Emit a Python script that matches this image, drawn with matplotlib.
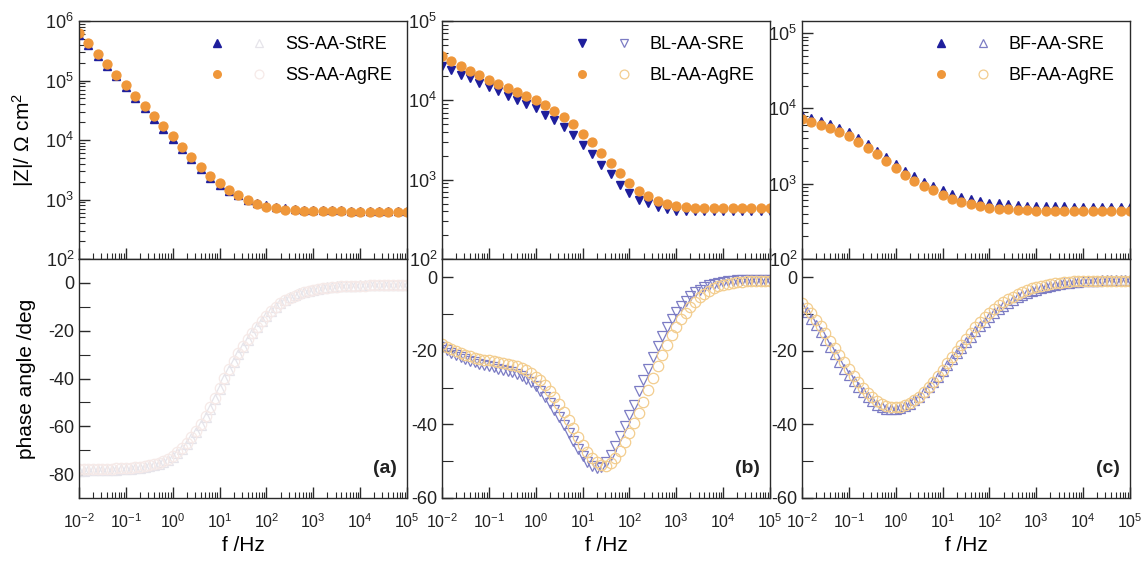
import numpy as np
import matplotlib
matplotlib.use("Agg")
import matplotlib.pyplot as plt
from matplotlib.ticker import LogLocator, FixedLocator, NullFormatter, LogFormatterSciNotation
from matplotlib.legend_handler import HandlerTuple

plt.rcParams.update({
    "font.family": ["Liberation Sans", "DejaVu Sans"],
    "mathtext.fontset": "custom",
    "mathtext.rm": "Liberation Sans",
    "mathtext.it": "Liberation Sans:italic",
    "mathtext.bf": "Liberation Sans:bold",
    "mathtext.default": "regular",
    "axes.unicode_minus": False,
})

# sweep grids: modulus every 0.2 decade, phase every 0.1 decade
f_mod = np.logspace(-2, 5, 36)
f_phase = np.logspace(-2, 5, 71)

# |Z| / Ohm cm2
ss_z_stre = [575e3, 398e3, 263e3, 174e3, 117e3, 77.6e3, 51.3e3, 33.9e3, 22.9e3, 15.5e3,
             10.5e3, 7080, 4790, 3310, 2340, 1780, 1410, 1170, 1000, 871,
             794, 741, 708, 692, 676, 676, 661, 661, 661, 646,
             646, 646, 646, 646, 646, 646]
ss_z_agre = [631e3, 427e3, 282e3, 186e3, 126e3, 83.2e3, 55.0e3, 37.2e3, 25.1e3, 17.0e3,
             11.5e3, 7590, 5130, 3550, 2510, 1860, 1450, 1170, 977, 851,
             759, 708, 676, 661, 646, 646, 631, 631, 631, 617,
             617, 617, 617, 617, 617, 617]
bl_z_sre = [26.9e3, 24.0e3, 20.9e3, 19.1e3, 16.6e3, 14.8e3, 13.2e3, 11.5e3, 10.2e3, 9120,
            7940, 6610, 5620, 4570, 3630, 2750, 2090, 1510, 1170, 851,
            676, 562, 501, 457, 427, 407, 398, 398, 398, 398,
            398, 398, 398, 398, 398, 398]
bl_z_agre = [36.3e3, 30.9e3, 26.9e3, 23.4e3, 20.9e3, 17.8e3, 16.2e3, 14.1e3, 12.9e3, 11.2e3,
             10.0e3, 8710, 7410, 6170, 5010, 3800, 2950, 2190, 1620, 1200,
             912, 724, 617, 537, 490, 468, 447, 437, 437, 437,
             437, 437, 437, 437, 437, 437]
bf_z_sre = [8130, 7410, 6760, 6170, 5500, 4790, 4070, 3390, 2750, 2240,
            1820, 1480, 1260, 1070, 933, 832, 741, 676, 631, 589,
            562, 550, 537, 525, 513, 513, 501, 501, 501, 490,
            490, 490, 490, 490, 490, 490]
bf_z_agre = [7240, 6610, 6030, 5500, 4900, 4270, 3630, 3020, 2450, 2000,
             1620, 1320, 1100, 933, 813, 708, 631, 575, 537, 501,
             479, 468, 457, 447, 447, 437, 437, 437, 437, 437,
             437, 437, 437, 437, 437, 437]

# phase angle / deg
ss_ph_stre = [-78.5, -78.5, -78.4, -78.4, -78.3, -78.3, -78.2, -78.2, -78.1, -78.0,
              -77.9, -77.8, -77.6, -77.4, -77.1, -76.8, -76.3, -75.7, -75.0, -74.0,
              -72.8, -71.3, -69.5, -67.4, -65.0, -62.3, -59.4, -56.2, -52.6, -48.4,
              -44.2, -40.2, -36.6, -33.1, -29.8, -26.7, -23.8, -21.0, -18.4, -16.0,
              -13.8, -11.8, -10.0, -8.5, -7.2, -6.1, -5.2, -4.4, -3.8, -3.2,
              -2.8, -2.4, -2.1, -1.9, -1.7, -1.5, -1.4, -1.3, -1.2, -1.1,
              -1.0, -1.0, -0.9, -0.9, -0.8, -0.8, -0.8, -0.7, -0.7, -0.7,
              -0.7]
ss_ph_agre = [-78.0, -78.0, -77.9, -77.9, -77.8, -77.8, -77.7, -77.7, -77.6, -77.5,
              -77.4, -77.3, -77.1, -76.9, -76.6, -76.3, -75.8, -75.2, -74.5, -73.5,
              -72.3, -70.8, -69.0, -66.9, -64.5, -61.8, -58.9, -55.7, -52.1, -48.0,
              -43.8, -39.8, -36.2, -32.8, -29.5, -26.5, -23.6, -20.9, -18.3, -16.0,
              -13.8, -11.8, -10.1, -8.6, -7.3, -6.2, -5.3, -4.5, -3.9, -3.3,
              -2.9, -2.5, -2.2, -2.0, -1.8, -1.6, -1.5, -1.4, -1.3, -1.2,
              -1.1, -1.1, -1.0, -1.0, -0.9, -0.9, -0.9, -0.8, -0.8, -0.8,
              -0.8]
bl_ph_sre = [-19.0, -19.8, -20.5, -21.1, -21.7, -22.2, -22.7, -23.1, -23.5, -23.9,
             -24.2, -24.5, -24.8, -25.1, -25.4, -25.8, -26.3, -26.9, -27.6, -28.5,
             -29.6, -30.9, -32.4, -34.1, -36.0, -38.0, -40.1, -42.3, -44.5, -46.6,
             -48.5, -50.1, -51.3, -51.9, -51.6, -50.3, -48.3, -45.9, -43.1, -40.3,
             -37.5, -34.6, -31.0, -28.0, -24.8, -21.7, -18.7, -16.0, -13.5, -11.3,
             -9.4, -7.8, -6.4, -5.1, -4.1, -3.3, -2.7, -2.2, -1.8, -1.5,
             -1.2, -1.0, -0.9, -0.8, -0.7, -0.7, -0.6, -0.6, -0.6, -0.6,
             -0.6]
bl_ph_agre = [-18.0, -18.8, -19.5, -20.1, -20.6, -21.0, -21.4, -21.8, -22.1, -22.4,
              -22.6, -22.8, -23.0, -23.2, -23.5, -23.8, -24.2, -24.7, -25.3, -26.1,
              -27.0, -28.0, -29.3, -30.8, -32.5, -34.4, -36.5, -38.7, -41.0, -43.3,
              -45.5, -47.5, -49.2, -50.3, -51.0, -51.2, -50.6, -49.2, -47.3, -44.9,
              -42.4, -39.7, -36.9, -33.8, -30.6, -27.4, -24.2, -21.2, -18.4, -15.8,
              -13.5, -11.4, -9.6, -8.0, -6.6, -5.4, -4.4, -3.6, -2.9, -2.4,
              -2.0, -1.7, -1.5, -1.3, -1.2, -1.1, -1.0, -1.0, -1.0, -1.0,
              -1.0]
bf_ph_sre = [-8.0, -9.5, -11.2, -13.0, -14.9, -16.9, -18.9, -20.9, -22.9, -24.8,
             -26.6, -28.3, -29.9, -31.3, -32.6, -33.7, -34.6, -35.3, -35.7, -35.9,
             -35.8, -35.5, -35.0, -34.3, -33.4, -32.4, -31.2, -29.9, -28.5, -27.0,
             -25.5, -23.9, -22.3, -20.7, -19.1, -17.6, -16.1, -14.7, -13.3, -12.0,
             -10.8, -9.7, -8.7, -7.7, -6.9, -6.1, -5.4, -4.8, -4.2, -3.7,
             -3.3, -2.9, -2.6, -2.3, -2.0, -1.8, -1.6, -1.4, -1.3, -1.2,
             -1.1, -1.0, -0.9, -0.9, -0.8, -0.8, -0.8, -0.7, -0.7, -0.7,
             -0.7]
bf_ph_agre = [-7.0, -8.3, -9.8, -11.5, -13.3, -15.2, -17.2, -19.2, -21.2, -23.1,
              -25.0, -26.8, -28.5, -30.0, -31.4, -32.6, -33.6, -34.4, -34.9, -35.2,
              -35.3, -35.2, -34.8, -34.2, -33.4, -32.4, -31.2, -29.9, -28.4, -26.8,
              -25.1, -23.4, -21.7, -20.0, -18.3, -16.7, -15.1, -13.6, -12.2, -10.9,
              -9.7, -8.6, -7.6, -6.7, -5.9, -5.2, -4.5, -3.9, -3.4, -3.0,
              -2.6, -2.3, -2.0, -1.8, -1.6, -1.4, -1.3, -1.2, -1.1, -1.0,
              -1.0, -0.9, -0.9, -0.9, -0.9, -0.9, -0.9, -0.9, -0.9, -0.9,
              -0.9]

NAVY = "#1e1e9c"
ORANGE = "#ef973a"

panels = [
    dict(z=(ss_z_stre, ss_z_agre), ph=(ss_ph_stre, ss_ph_agre),
         names=("SS-AA-StRE", "SS-AA-AgRE"), tri="^",
         open_cols=("#e6e4ea", "#f6eae8"),
         zlim=(1e2, 1e6), phlim=(-90, 10),
         ph_major=[-80, -60, -40, -20, 0], ph_minor=[-70, -50, -30, -10],
         tag="(a)", left=79),
    dict(z=(bl_z_sre, bl_z_agre), ph=(bl_ph_sre, bl_ph_agre),
         names=("BL-AA-SRE", "BL-AA-AgRE"), tri="v",
         open_cols=("#7c7cc4", "#f3cd8e"),
         zlim=(1e2, 1e5), phlim=(-60, 5),
         ph_major=[-60, -40, -20, 0], ph_minor=[-50, -30, -10],
         tag="(b)", left=442),
    dict(z=(bf_z_sre, bf_z_agre), ph=(bf_ph_sre, bf_ph_agre),
         names=("BF-AA-SRE", "BF-AA-AgRE"), tri="^",
         open_cols=("#7c7cc4", "#f3cd8e"),
         zlim=(1e2, 1.45e5), phlim=(-60, 5),
         ph_major=[-60, -40, -20, 0], ph_minor=[-50, -30, -10],
         tag="(c)", left=802),
]

W, H = 1143, 562
fig = plt.figure(figsize=(W / 100, H / 100), dpi=100)


def style_axes(ax):
    for sp in ax.spines.values():
        sp.set_color("#2a2a2a")
        sp.set_linewidth(1.0)
    ax.tick_params(which="both", direction="in", top=False, right=False,
                   colors="#2a2a2a", labelcolor="#222222", labelsize=13)
    ax.tick_params(which="major", length=8, width=1.0)
    ax.tick_params(which="minor", length=4.5, width=0.8)
    ax.set_xscale("log")
    ax.set_xlim(1e-2, 1e5)
    ax.xaxis.set_major_locator(LogLocator(base=10, numticks=12))
    ax.xaxis.set_minor_locator(LogLocator(base=10, subs=np.arange(2, 10), numticks=12))


for i, p in enumerate(panels):
    x0 = p["left"] / W
    ax_z = fig.add_axes([x0, 1 - 259 / H, 328 / W, 238 / H])
    ax_p = fig.add_axes([x0, 1 - 498 / H, 328 / W, 239 / H])
    style_axes(ax_z)
    style_axes(ax_p)

    # modulus: filled symbols
    hz_s, = ax_z.plot(f_mod, p["z"][0], ls="none", marker=p["tri"], ms=6.2,
                      color=NAVY, mec=NAVY)
    hz_a, = ax_z.plot(f_mod, p["z"][1], ls="none", marker="o", ms=6.4,
                      color=ORANGE, mec=ORANGE)
    ax_z.set_yscale("log")
    ax_z.set_ylim(*p["zlim"])
    ax_z.yaxis.set_major_locator(LogLocator(base=10, numticks=10))
    ax_z.yaxis.set_minor_locator(LogLocator(base=10, subs=np.arange(2, 10), numticks=10))
    ax_z.yaxis.set_major_formatter(LogFormatterSciNotation())
    ax_z.yaxis.set_minor_formatter(NullFormatter())
    ax_z.tick_params(axis="x", labelbottom=False)
    ax_z.tick_params(axis="y", which="minor", length=4)

    # phase: open symbols
    hp_s, = ax_p.plot(f_phase, p["ph"][0], ls="none", marker=p["tri"], ms=7.5,
                      mfc="none", mec=p["open_cols"][0], mew=0.9)
    hp_a, = ax_p.plot(f_phase, p["ph"][1], ls="none", marker="o", ms=7.5,
                      mfc="none", mec=p["open_cols"][1], mew=0.9)
    ax_p.set_ylim(*p["phlim"])
    ax_p.yaxis.set_major_locator(FixedLocator(p["ph_major"]))
    ax_p.yaxis.set_minor_locator(FixedLocator(p["ph_minor"]))
    ax_p.tick_params(axis="y", which="minor", length=8)
    ax_p.tick_params(axis="x", labelsize=11.5, pad=10)

    ax_p.set_xlabel("f /Hz", fontsize=15)
    ax_p.xaxis.set_label_coords(0.5, -0.16)
    ax_p.text(0.97, 0.125, p["tag"], transform=ax_p.transAxes, ha="right",
              va="center", fontsize=14, fontweight="bold", color="#222222")

    ax_z.legend([(hz_s, hp_s), (hz_a, hp_a)], list(p["names"]),
                handler_map={tuple: HandlerTuple(ndivide=None, pad=1.6)},
                handlelength=3.0, handletextpad=1.1, markerscale=0.85,
                loc="upper right", frameon=False, fontsize=13,
                labelspacing=0.75, borderaxespad=0.45)

    if i == 0:
        ax_z.set_ylabel("|Z|/ Ω cm$^2$", fontsize=15)
        ax_z.yaxis.set_label_coords(-0.13, 0.5)
        ax_p.set_ylabel("phase angle /deg", fontsize=15)
        ax_p.yaxis.set_label_coords(-0.13, 0.5)

fig.savefig("out.png", dpi=100)
